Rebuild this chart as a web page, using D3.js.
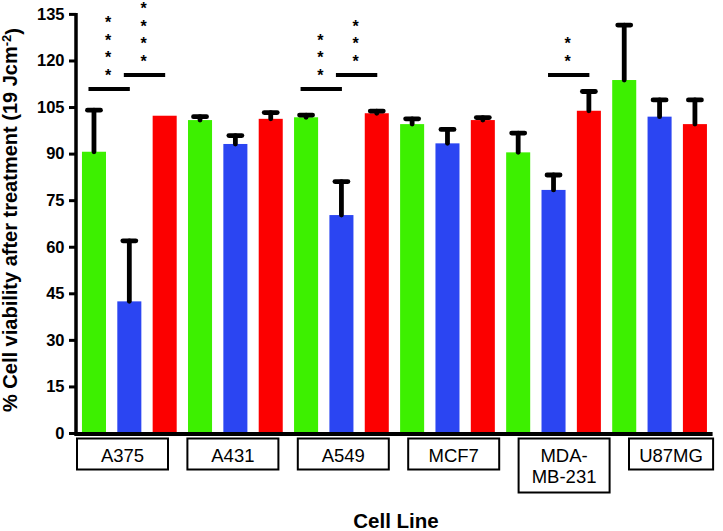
<!DOCTYPE html>
<html>
<head>
<meta charset="utf-8">
<script src="https://cdn.jsdelivr.net/npm/d3@7"></script>
<style>
  html, body { margin: 0; padding: 0; background: #fff; }
  svg { display: block; }
  text { font-family: "Liberation Sans", Arial, sans-serif; }
</style>
</head>
<body>
<svg id="chart" width="723" height="531"></svg>
<script>
// ---------- data ----------
const cellLines = ["A375", "A431", "A549", "MCF7", "MDA-MB-231", "U87MG"];
const cellLineLabels = [["A375"], ["A431"], ["A549"], ["MCF7"], ["MDA-", "MB-231"], ["U87MG"]];
const seriesNames = ["Treatment 1", "Treatment 2", "Treatment 3"];
const seriesColors = ["#3df000", "#2b45f2", "#fc0000"];

const greenValues = [90.6, 100.8, 101.7, 99.5, 90.4, 113.7];
const greenErrors = [13.4, 1.1, 0.7, 1.7, 6.2, 17.7];
const blueValues  = [42.4, 93.1, 70.2, 93.3, 78.3, 101.9];
const blueErrors  = [19.5, 2.7, 10.8, 4.5, 4.8, 5.4];
const redValues   = [102.2, 101.2, 103.0, 100.8, 103.8, 99.5];
const redErrors   = [0, 2.0, 0.7, 0.8, 6.2, 7.8];

const yTicks = [0, 15, 30, 45, 60, 75, 90, 105, 120, 135];

// significance comparisons: cell line, series index from/to, bracket height (value units), stars
const sigGroups = ["A375", "A375", "A549", "A549", "MDA-MB-231"];
const sigFrom   = [0, 1, 0, 1, 1];
const sigTo     = [1, 2, 1, 2, 2];
const sigLevel  = [110.8, 115.3, 110.8, 115.3, 115.3];
const sigStars  = [4, 4, 3, 3, 2];

const yTitleMain = "% Cell viability after treatment (19 Jcm";
const yTitleSup = "-2";
const xTitle = "Cell Line";

// ---------- build ----------
const allValues = [greenValues, blueValues, redValues];
const allErrors = [greenErrors, blueErrors, redErrors];
const rows = [];
cellLines.forEach((cl, gi) => {
  seriesNames.forEach((s, si) => {
    rows.push({ group: cl, gi, si, value: allValues[si][gi], err: allErrors[si][gi] });
  });
});

const svg = d3.select("#chart");
const font = '"Liberation Sans", Arial, sans-serif';

const y = d3.scaleLinear().domain([0, 135]).range([433, 13.9]);
const x0 = d3.scaleBand().domain(cellLines).range([76.3, 712.6]).padding(0);
const x1 = d3.scaleBand().domain([0, 1, 2]).range([0, x0.bandwidth()])
  .paddingInner(0.32).paddingOuter(0.16);
const barCenter = (g, s) => x0(g) + x1(s) + x1.bandwidth() / 2;

// bars
svg.append("g").selectAll("rect").data(rows).join("rect")
  .attr("x", d => x0(d.group) + x1(d.si))
  .attr("y", d => y(d.value))
  .attr("width", x1.bandwidth())
  .attr("height", d => y(0) - y(d.value))
  .attr("fill", d => seriesColors[d.si]);

// error bars (upper only)
const eb = svg.append("g").attr("stroke", "#000").attr("stroke-width", 4.8)
  .attr("stroke-linecap", "round");
rows.filter(d => d.err > 0).forEach(d => {
  const cx = barCenter(d.group, d.si);
  eb.append("line").attr("x1", cx).attr("x2", cx)
    .attr("y1", y(d.value)).attr("y2", y(d.value + d.err));
  eb.append("line").attr("x1", cx - 6.5).attr("x2", cx + 6.5)
    .attr("y1", y(d.value + d.err)).attr("y2", y(d.value + d.err));
});

// significance brackets
const sg = svg.append("g");
sigGroups.forEach((g, i) => {
  const ca = barCenter(g, sigFrom[i]);
  const cb = barCenter(g, sigTo[i]);
  const xa = ca - 5.5, xb = cb + 0.5;
  const yl = y(sigLevel[i]);
  sg.append("line").attr("x1", xa).attr("x2", xb).attr("y1", yl).attr("y2", yl)
    .attr("stroke", "#000").attr("stroke-width", 4);
  const mx = (xa + xb) / 2 - 1;
  for (let k = 0; k < sigStars[i]; k++) {
    sg.append("text")
      .attr("x", mx).attr("y", yl - 18 - k * 17.5)
      .attr("dy", "0.6em")
      .attr("text-anchor", "middle")
      .attr("font-size", 16)
      .attr("font-weight", "bold")
      .attr("fill", "#000")
      .text("*");
  }
});

// y axis
const yAxis = d3.axisLeft(y).tickValues(yTicks).tickSize(7).tickSizeOuter(0).tickPadding(4.5);
const yg = svg.append("g").attr("transform", "translate(76,0)").call(yAxis);
yg.select(".domain").attr("stroke", "#000").attr("stroke-width", 3.5)
  .attr("d", `M0,${y(135) - 1}V${y(0) + 2}`);
yg.selectAll(".tick line").attr("stroke", "#000").attr("stroke-width", 3);
yg.selectAll(".tick text").attr("font-family", font).attr("font-size", 16.5)
  .attr("font-weight", "bold").attr("fill", "#000");

// x axis line
svg.append("line")
  .attr("x1", x0.range()[0] - 2).attr("x2", x0.range()[1])
  .attr("y1", y(0) + 1).attr("y2", y(0) + 1)
  .attr("stroke", "#000").attr("stroke-width", 4);

// category label boxes
const labelScale = d3.scaleBand().domain(cellLines).range([77, 77 + 6 * 110.4]).padding(0);
const boxW = 91;
const axisEnd = x0.range()[1] + 0.5;
const lg = svg.append("g");
cellLines.forEach((cl, i) => {
  const lines = cellLineLabels[i];
  const left = labelScale(cl);
  const w = Math.min(boxW, axisEnd - left);
  const h = lines.length === 1 ? 31 : 54;
  lg.append("rect").attr("x", left).attr("y", 438.5).attr("width", w).attr("height", h)
    .attr("fill", "#fff").attr("stroke", "#000").attr("stroke-width", 2);
  const t = lg.append("text").attr("text-anchor", "middle")
    .attr("font-size", 18.5).attr("fill", "#000");
  lines.forEach((ln, k) => {
    t.append("tspan").attr("x", left + w / 2).attr("y", 461.5 + k * 21.7).text(ln);
  });
});

// x title
svg.append("text").attr("x", 396).attr("y", 528).attr("text-anchor", "middle")
  .attr("font-size", 20.5).attr("font-weight", "bold").attr("fill", "#000").text(xTitle);

// y title
const yt = svg.append("text")
  .attr("transform", "translate(17,220) rotate(-90)")
  .attr("text-anchor", "middle")
  .attr("font-size", 16).attr("font-weight", "bold").attr("fill", "#000");
yt.append("tspan").text(yTitleMain);
yt.append("tspan").attr("dy", "-0.45em").attr("font-size", "0.65em").text(yTitleSup);
yt.append("tspan").attr("dy", "0.45em").text(")");
const L = yt.node().getComputedTextLength();
const fs = Math.max(14, Math.min(20, 16 * 404 / L));
yt.attr("font-size", fs);
</script>
</body>
</html>
